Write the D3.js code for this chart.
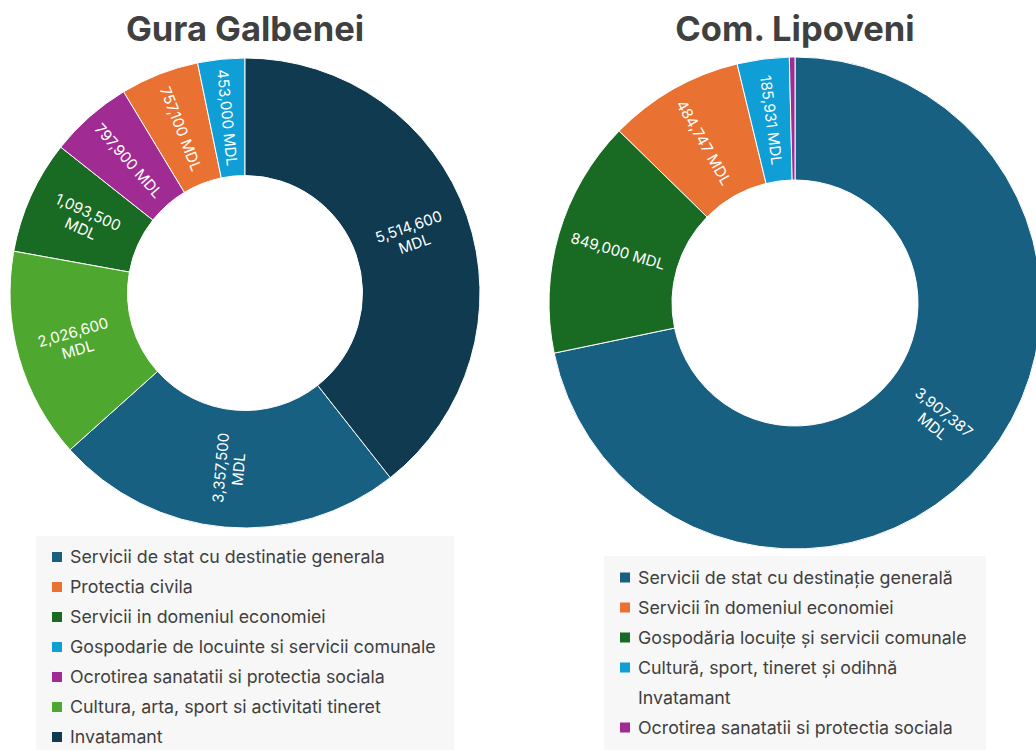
<!DOCTYPE html>
<html>
<head>
<meta charset="utf-8">
<script src="https://cdn.jsdelivr.net/npm/d3@7"></script>
<style>
  html, body { margin: 0; padding: 0; background: #ffffff; }
  svg { display: block; font-family: "Inter", "Noto Sans", sans-serif; }
</style>
</head>
<body>
<svg id="chart" width="1036" height="750"></svg>
<script>
// ---- Data ----
const leftTitle = "Gura Galbenei";
const leftCategories = [
  "Servicii de stat cu destinatie generala",
  "Protectia civila",
  "Servicii in domeniul economiei",
  "Gospodarie de locuinte si servicii comunale",
  "Ocrotirea sanatatii si protectia sociala",
  "Cultura, arta, sport si activitati tineret",
  "Invatamant"
];
const leftValues = [3357500, 757100, 1093500, 453000, 797900, 2026600, 5514600];
const leftColors = ["#176082", "#e97132", "#196b24", "#0f9ed5", "#a02b93", "#4ea72e", "#0f3a50"];

const rightTitle = "Com. Lipoveni";
const rightCategories = [
  "Servicii de stat cu destinație generală",
  "Servicii în domeniul economiei",
  "Gospodăria locuițe și servicii comunale",
  "Cultură, sport, tineret și odihnă",
  "Invatamant",
  "Ocrotirea sanatatii si protectia sociala"
];
const rightValues = [3907387, 484747, 849000, 185931, 0, 20000];
const rightColors = ["#176082", "#e97132", "#196b24", "#0f9ed5", null, "#a02b93"];

const unit = "MDL";

// ---- Drawing ----
const svg = d3.select("#chart");
const fmt = d3.format(",");

function donut(cfg) {
  const g = svg.append("g");
  // title
  g.append("text")
    .attr("x", cfg.cx).attr("y", cfg.titleY)
    .attr("text-anchor", "middle")
    .attr("font-size", 34.5).attr("font-weight", 700)
    .attr("fill", "#404040")
    .text(cfg.title);

  const data = cfg.categories.map((c, i) => ({ cat: c, value: cfg.values[i], color: cfg.colors[i] }));
  const pie = d3.pie().value(d => d.value).sortValues((a, b) => b - a);
  const arcs = pie(data.filter(d => d.value > 0));
  const arc = d3.arc().innerRadius(cfg.r * 0.5).outerRadius(cfg.r);

  const pg = g.append("g").attr("transform", `translate(${cfg.cx},${cfg.cy})`);
  pg.selectAll("path").data(arcs).join("path")
    .attr("d", arc)
    .attr("fill", d => d.data.color)
    .attr("stroke", "#ffffff")
    .attr("stroke-width", 1);

  const labeled = arcs.filter(d => (d.endAngle - d.startAngle) > 0.05);
  const lg = pg.selectAll("g.lbl").data(labeled).join("g")
    .attr("class", "lbl")
    .attr("transform", d => {
      const [x, y] = arc.centroid(d);
      const a = (d.startAngle + d.endAngle) / 2 * 180 / Math.PI;
      const rot = a < 180 ? a - 90 : a - 270;
      return `translate(${x},${y}) rotate(${rot})`;
    });
  lg.each(function(d) {
    const t = d3.select(this).append("text")
      .attr("text-anchor", "middle")
      .attr("fill", "#ffffff")
      .attr("font-size", 15);
    const num = fmt(d.data.value);
    if (d.data.value >= 1e6) {
      t.append("tspan").attr("x", 0).attr("dy", "-0.25em").text(num);
      t.append("tspan").attr("x", 0).attr("dy", "1.2em").text(unit);
    } else {
      t.append("tspan").attr("x", 0).attr("dy", "0.35em").text(num + " " + unit);
    }
  });

  // legend
  const lgX = cfg.legend.x, lgY = cfg.legend.y;
  g.append("rect")
    .attr("x", lgX).attr("y", lgY)
    .attr("width", cfg.legend.w).attr("height", 750 - lgY)
    .attr("fill", "#f7f7f7");
  const items = g.selectAll("g.li").data(data).join("g")
    .attr("class", "li")
    .attr("transform", (d, i) => `translate(${lgX + 16},${cfg.legend.firstY + i * 30})`);
  items.filter(d => d.color)
    .append("rect")
    .attr("x", 0).attr("y", -5).attr("width", 10).attr("height", 10)
    .attr("fill", d => d.color);
  items.append("text")
    .attr("x", 18).attr("y", 0).attr("dy", "0.35em")
    .attr("font-size", 17.8).attr("fill", "#404040")
    .text(d => d.cat);
}

donut({
  title: leftTitle, categories: leftCategories, values: leftValues, colors: leftColors,
  cx: 245, cy: 293, r: 235, titleY: 41,
  legend: { x: 36, y: 536, w: 418, firstY: 557 }
});
donut({
  title: rightTitle, categories: rightCategories, values: rightValues, colors: rightColors,
  cx: 795, cy: 303, r: 246, titleY: 41,
  legend: { x: 604, y: 556, w: 382, firstY: 577.5 }
});
</script>
</body>
</html>
